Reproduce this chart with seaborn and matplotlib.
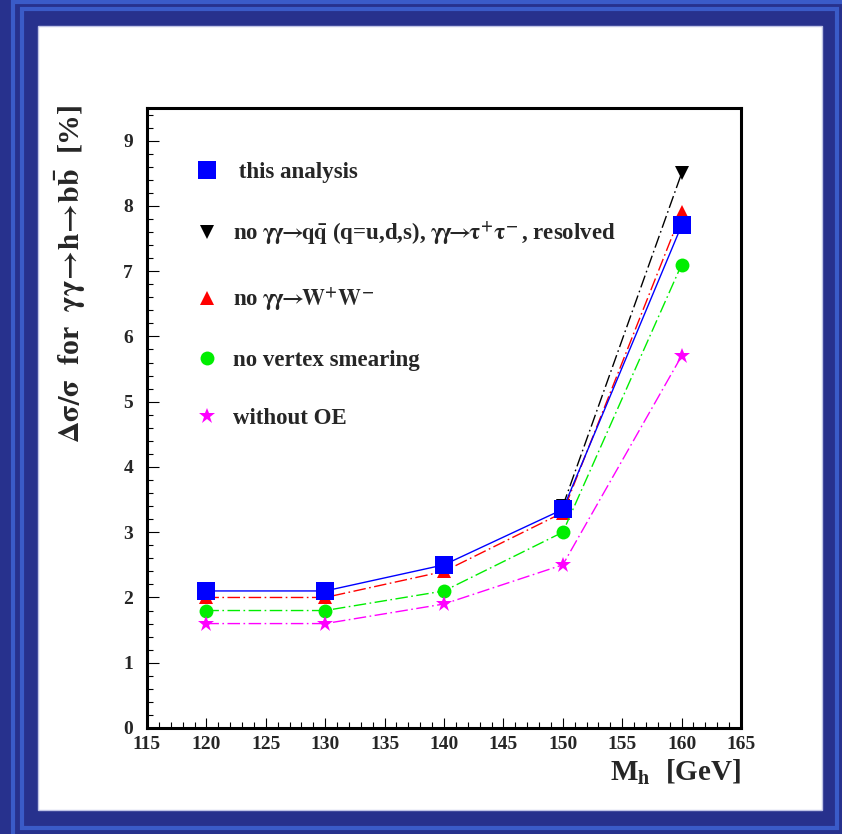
import pandas as pd
import seaborn as sns
import matplotlib.pyplot as plt
from matplotlib.patches import Rectangle
from matplotlib.lines import Line2D
from matplotlib.ticker import MultipleLocator

# values
masses = [120, 130, 140, 150, 160]
this_analysis = [2.1, 2.1, 2.5, 3.35, 7.7]
no_qq_masses = [150, 160]
no_qq = [3.4, 8.5]
no_ww = [2.0, 2.0, 2.4, 3.3, 7.9]
no_vertex = [1.8, 1.8, 2.1, 3.0, 7.1]
without_oe = [1.6, 1.6, 1.9, 2.5, 5.7]

legend_labels = [
    " this analysis",
    r"no $\gamma\!\gamma\!\!\rightarrow\!\!\mathbf{q\bar{q}}$ (q=u,d,s), "
    r"$\gamma\!\gamma\!\!\rightarrow\!\!\tau^{\!+}\!\tau^{\!-}$, resolved",
    r"no $\gamma\!\gamma\!\!\rightarrow\!\!\mathbf{W^{\!+}\!W^{\!-}}$",
    "no vertex smearing",
    "without OE",
]

DASHDOT = (0, (9, 2.5, 1.2, 2.5))

# label, x, y, color, marker, markersize, linestyle, zorder
SERIES = [
    (legend_labels[1], no_qq_masses, no_qq, "black", "v", 10, DASHDOT, 3),
    (legend_labels[2], masses, no_ww, "#ff0000", "^", 10.5, DASHDOT, 4),
    (legend_labels[3], masses, no_vertex, "#00ee00", "o", 10, DASHDOT, 4),
    (legend_labels[4], masses, without_oe, "#ff00ff", "*", 12, DASHDOT, 4),
    (legend_labels[0], masses, this_analysis, "#0000ff", "s", 12.5, "-", 6),
]
LEGEND_ORDER = [4, 0, 1, 2, 3]

sns.set_theme(style="ticks")
plt.rcParams["font.family"] = ["Liberation Serif", "DejaVu Serif"]
plt.rcParams["font.weight"] = "bold"
plt.rcParams["mathtext.fontset"] = "stix"
plt.rcParams["mathtext.default"] = "rm"

W, H = 842, 834
fig = plt.figure(figsize=(W / 100, H / 100), dpi=100, facecolor="#27318d")


def px_rect(x0, y0, x1, y1, **kw):
    # rectangle given in pixel coords (origin top-left)
    r = Rectangle((x0 / W, 1 - y1 / H), (x1 - x0) / W, (y1 - y0) / H,
                  transform=fig.transFigure, **kw)
    fig.add_artist(r)
    return r


LIGHT = "#3a5bc8"
# outer decorative frame lines
px_rect(13, 1.5, W + 20, H + 20, fill=False, ec=LIGHT, lw=3, zorder=0)
px_rect(21.5, 9, 837, 827.5, fill=False, ec=LIGHT, lw=3, zorder=0)
# white panel
px_rect(38, 26, 822, 810, fc="white", ec="#c0c4e6", lw=1, zorder=0)

ax = fig.add_axes([147 / W, 1 - 728 / H, 594 / W, 620 / H])
ax.set_facecolor("none")

for label, xs, ys, color, marker, ms, ls, z in SERIES:
    df = pd.DataFrame({"mass": xs, "value": ys})
    sns.lineplot(data=df, x="mass", y="value", ax=ax, color=color,
                 marker=marker, markersize=ms, markeredgecolor=color,
                 markeredgewidth=0, linewidth=1, linestyle=ls, zorder=z)

ax.set_xlim(115, 165)
ax.set_ylim(0, 9.5)
ax.xaxis.set_major_locator(MultipleLocator(5))
ax.xaxis.set_minor_locator(MultipleLocator(1))
ax.yaxis.set_major_locator(MultipleLocator(1))
ax.yaxis.set_minor_locator(MultipleLocator(0.2))
for s in ax.spines.values():
    s.set_linewidth(2.2)
    s.set_color("black")
ax.tick_params(axis="both", which="both", direction="in", top=False,
               right=False, color="black", width=0.8, labelsize=14)
ax.tick_params(axis="y", which="major", length=8.6, pad=10)
ax.tick_params(axis="y", which="minor", length=4)
ax.tick_params(axis="x", which="major", length=7.5, pad=6)
ax.tick_params(axis="x", which="minor", length=4)
for t in ax.get_xticklabels() + ax.get_yticklabels():
    t.set_fontweight("bold")
ax.set_xlabel("")
ax.set_ylabel("")

handles = []
for i in LEGEND_ORDER:
    _, _, _, color, marker, ms, _, _ = SERIES[i]
    handles.append(Line2D([], [], ls="none", marker=marker, color=color,
                          markersize=ms, markeredgewidth=0))
ax.legend(handles, [SERIES[i][0] for i in LEGEND_ORDER], loc="upper left",
          bbox_to_anchor=(0.081, 0.913), frameon=False, fontsize=16.5,
          handlelength=1.0, handletextpad=0.65, labelspacing=1.6,
          borderaxespad=0, borderpad=0)

fig.text(741 / W, 1 - 772 / H, r"M$_{\mathbf{h}}$  [GeV]", ha="right",
         va="center", fontsize=21, fontweight="bold")
fig.text(70 / W, 1 - 104 / H,
         r"$\Delta\sigma/\sigma$  for  "
         r"$\gamma\gamma\!\rightarrow\!\mathbf{h}\!\rightarrow\!\mathbf{b\bar{b}}$  [%]",
         rotation=90, ha="center", va="top", fontsize=21.5, fontweight="bold")

fig.savefig("out.png", dpi=100, facecolor=fig.get_facecolor())
